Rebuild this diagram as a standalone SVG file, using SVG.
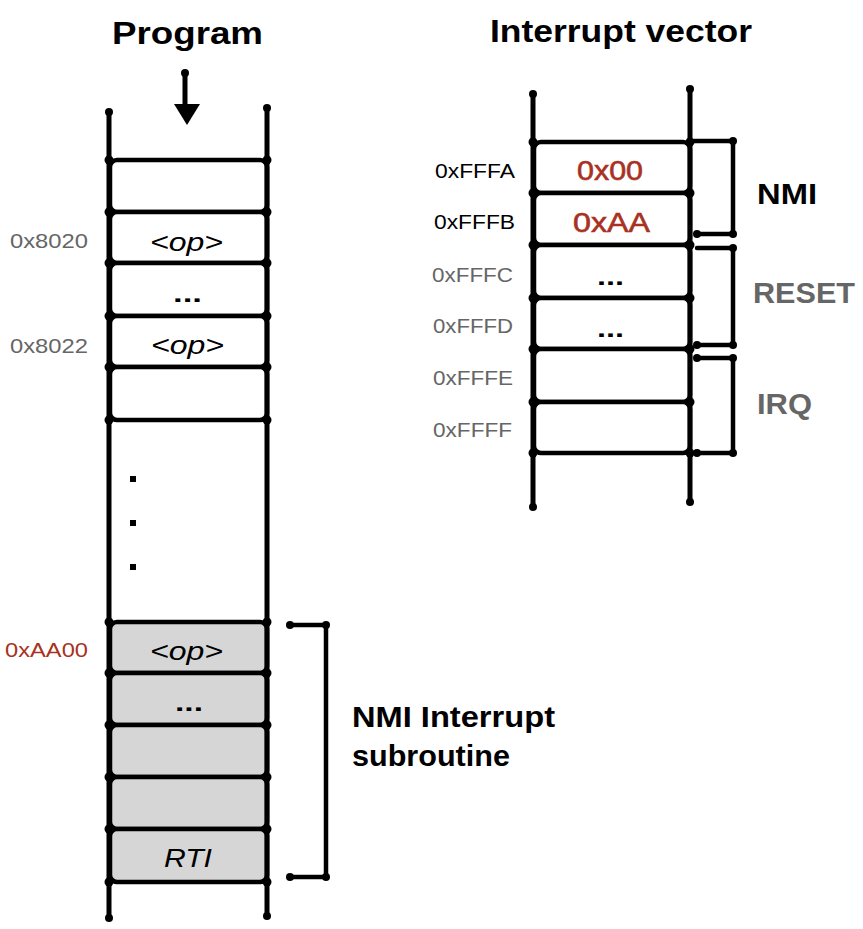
<svg xmlns="http://www.w3.org/2000/svg" width="863" height="929" viewBox="0 0 863 929">
<style>
text{font-family:"Liberation Sans",Arial,sans-serif}
.title{font-size:31px;font-weight:bold;fill:#000}
.addr{font-size:21px;fill:#666}
.addrk{font-size:21px;fill:#000}
.red{fill:#a8321f}
.cell{fill:#fff;stroke:#000;stroke-width:4.5;}
.gcell{fill:#d6d6d6;stroke:#000;stroke-width:4.5;}
.rail{stroke:#000;stroke-width:5;stroke-linecap:round;fill:none}
.br{stroke:#000;stroke-width:4.5;fill:none;stroke-linejoin:round;stroke-linecap:round}
.op{font-size:26px;font-style:italic;fill:#000}
.dots{font-size:24px;font-weight:bold;fill:#000}
.lbl{font-size:29px;font-weight:bold}
.val{font-size:28px}
</style>
<rect width="863" height="929" fill="#fff"/>

<text class="title" x="112" y="44" textLength="151" lengthAdjust="spacingAndGlyphs">Program</text>
<text class="title" x="490" y="42" textLength="262" lengthAdjust="spacingAndGlyphs">Interrupt vector</text>

<g id="program">
  <rect class="cell" x="110" y="160" width="157" height="52" rx="7"/>
  <rect class="cell" x="110" y="212" width="157" height="51" rx="7"/>
  <rect class="cell" x="110" y="263" width="157" height="53" rx="7"/>
  <rect class="cell" x="110" y="316" width="157" height="51" rx="7"/>
  <rect class="cell" x="110" y="367" width="157" height="53" rx="7"/>
  <rect class="gcell" x="110" y="622" width="157" height="51" rx="7"/>
  <rect class="gcell" x="110" y="673" width="157" height="52" rx="7"/>
  <rect class="gcell" x="110" y="725" width="157" height="52" rx="7"/>
  <rect class="gcell" x="110" y="777" width="157" height="52" rx="7"/>
  <rect class="gcell" x="110" y="829" width="157" height="53" rx="7"/>
  <line class="rail" x1="109" y1="112" x2="109" y2="918"/>
  <line class="rail" x1="267" y1="108" x2="267" y2="916"/>
  <g fill="#000">
    <circle cx="109" cy="112" r="4"/><circle cx="267" cy="108" r="4"/>
    <circle cx="109" cy="918" r="4"/><circle cx="267" cy="916" r="4"/>
    <circle cx="109" cy="160" r="4.5"/><circle cx="267" cy="160" r="4.5"/>
    <circle cx="109" cy="212" r="4.5"/><circle cx="267" cy="212" r="4.5"/>
    <circle cx="109" cy="263" r="4.5"/><circle cx="267" cy="263" r="4.5"/>
    <circle cx="109" cy="316" r="4.5"/><circle cx="267" cy="316" r="4.5"/>
    <circle cx="109" cy="367" r="4.5"/><circle cx="267" cy="367" r="4.5"/>
    <circle cx="109" cy="420" r="4.5"/><circle cx="267" cy="420" r="4.5"/>
    <circle cx="109" cy="622" r="4.5"/><circle cx="267" cy="622" r="4.5"/>
    <circle cx="109" cy="673" r="4.5"/><circle cx="267" cy="673" r="4.5"/>
    <circle cx="109" cy="725" r="4.5"/><circle cx="267" cy="725" r="4.5"/>
    <circle cx="109" cy="777" r="4.5"/><circle cx="267" cy="777" r="4.5"/>
    <circle cx="109" cy="829" r="4.5"/><circle cx="267" cy="829" r="4.5"/>
    <circle cx="109" cy="882" r="4.5"/><circle cx="267" cy="882" r="4.5"/>
    <rect x="130" y="476" width="6" height="6"/>
    <rect x="130" y="520" width="6" height="6"/>
    <rect x="130" y="564" width="6" height="6"/>
  </g>
  <text class="op" x="150" y="251" textLength="73" lengthAdjust="spacingAndGlyphs">&lt;op&gt;</text>
  <text class="dots" x="173" y="302" textLength="29" lengthAdjust="spacingAndGlyphs">...</text>
  <text class="op" x="151" y="354" textLength="73" lengthAdjust="spacingAndGlyphs">&lt;op&gt;</text>
  <text class="op" x="150" y="660" textLength="73" lengthAdjust="spacingAndGlyphs">&lt;op&gt;</text>
  <text class="dots" x="175" y="711" textLength="28" lengthAdjust="spacingAndGlyphs">...</text>
  <text class="op" x="164" y="867" textLength="48" lengthAdjust="spacingAndGlyphs">RTI</text>
</g>

<g id="program-addresses">
  <text class="addr" x="10" y="248" textLength="78" lengthAdjust="spacingAndGlyphs">0x8020</text>
  <text class="addr" x="10" y="353" textLength="78" lengthAdjust="spacingAndGlyphs">0x8022</text>
  <text class="addr red" x="5" y="657" textLength="83" lengthAdjust="spacingAndGlyphs">0xAA00</text>
</g>

<g id="vector">
  <rect class="cell" x="534" y="142" width="156" height="51" rx="7"/>
  <rect class="cell" x="534" y="193" width="156" height="52" rx="7"/>
  <rect class="cell" x="534" y="245" width="156" height="53" rx="7"/>
  <rect class="cell" x="534" y="298" width="156" height="51" rx="7"/>
  <rect class="cell" x="534" y="349" width="156" height="53" rx="7"/>
  <rect class="cell" x="534" y="402" width="156" height="51" rx="7"/>
  <line class="rail" x1="533" y1="94" x2="533" y2="507"/>
  <line class="rail" x1="690" y1="89" x2="690" y2="502"/>
  <g fill="#000">
    <circle cx="533" cy="94" r="4"/><circle cx="690" cy="89" r="4"/>
    <circle cx="533" cy="507" r="4"/><circle cx="690" cy="502" r="4"/>
    <circle cx="533" cy="142" r="4.5"/><circle cx="690" cy="142" r="4.5"/>
    <circle cx="533" cy="193" r="4.5"/><circle cx="690" cy="193" r="4.5"/>
    <circle cx="533" cy="245" r="4.5"/><circle cx="690" cy="245" r="4.5"/>
    <circle cx="533" cy="298" r="4.5"/><circle cx="690" cy="298" r="4.5"/>
    <circle cx="533" cy="349" r="4.5"/><circle cx="690" cy="349" r="4.5"/>
    <circle cx="533" cy="402" r="4.5"/><circle cx="690" cy="402" r="4.5"/>
    <circle cx="533" cy="453" r="4.5"/><circle cx="690" cy="453" r="4.5"/>
  </g>
  <text class="val red" x="577" y="180" textLength="66" lengthAdjust="spacingAndGlyphs" stroke="#a8321f" stroke-width="0.6">0x00</text>
  <text class="val red" x="573" y="232" textLength="77" lengthAdjust="spacingAndGlyphs" stroke="#a8321f" stroke-width="0.6">0xAA</text>
  <text class="dots" x="597" y="285" textLength="27" lengthAdjust="spacingAndGlyphs">...</text>
  <text class="dots" x="597" y="337" textLength="27" lengthAdjust="spacingAndGlyphs">...</text>
</g>

<g id="vector-addresses">
  <text class="addrk" x="435" y="178" textLength="80" lengthAdjust="spacingAndGlyphs">0xFFFA</text>
  <text class="addrk" x="434" y="229" textLength="81" lengthAdjust="spacingAndGlyphs">0xFFFB</text>
  <text class="addr" x="432" y="282" textLength="81" lengthAdjust="spacingAndGlyphs">0xFFFC</text>
  <text class="addr" x="433" y="333" textLength="80" lengthAdjust="spacingAndGlyphs">0xFFFD</text>
  <text class="addr" x="433" y="385" textLength="80" lengthAdjust="spacingAndGlyphs">0xFFFE</text>
  <text class="addr" x="433" y="437" textLength="79" lengthAdjust="spacingAndGlyphs">0xFFFF</text>
</g>

<g id="connectors">
  <line class="rail" x1="185" y1="73" x2="185" y2="108"/>
  <circle cx="185" cy="73" r="4" fill="#000"/>
  <polygon points="174,104 200,104 187,125" fill="#000"/>
  <path class="br" d="M694,141 H733 V234 H697"/>
  <path class="br" d="M697,248 H733 V345 H697"/>
  <path class="br" d="M697,358 H733 V453 H697"/>
  <path class="br" d="M290,625 H326 V877 H290"/>
  <g fill="#000">
    <circle cx="733" cy="141" r="4"/><circle cx="733" cy="234" r="4"/><circle cx="697" cy="234" r="4"/>
    <circle cx="733" cy="248" r="4"/><circle cx="733" cy="345" r="4"/><circle cx="697" cy="345" r="4"/>
    <circle cx="733" cy="358" r="4"/><circle cx="733" cy="453" r="4"/><circle cx="697" cy="453" r="4"/><circle cx="697" cy="358" r="4"/>
    <circle cx="290" cy="625" r="4"/><circle cx="326" cy="625" r="4"/><circle cx="326" cy="877" r="4"/><circle cx="290" cy="877" r="4"/>
  </g>
</g>

<g id="labels">
  <text class="lbl" x="757" y="204" fill="#000" textLength="60" lengthAdjust="spacingAndGlyphs">NMI</text>
  <text class="lbl" x="753" y="303" fill="#666" textLength="102" lengthAdjust="spacingAndGlyphs">RESET</text>
  <text class="lbl" x="757" y="414" fill="#666" textLength="55" lengthAdjust="spacingAndGlyphs">IRQ</text>
  <text class="lbl" x="352" y="727" fill="#000" textLength="203" lengthAdjust="spacingAndGlyphs">NMI Interrupt</text>
  <text class="lbl" x="352" y="766" fill="#000" textLength="158" lengthAdjust="spacingAndGlyphs">subroutine</text>
</g>
</svg>
